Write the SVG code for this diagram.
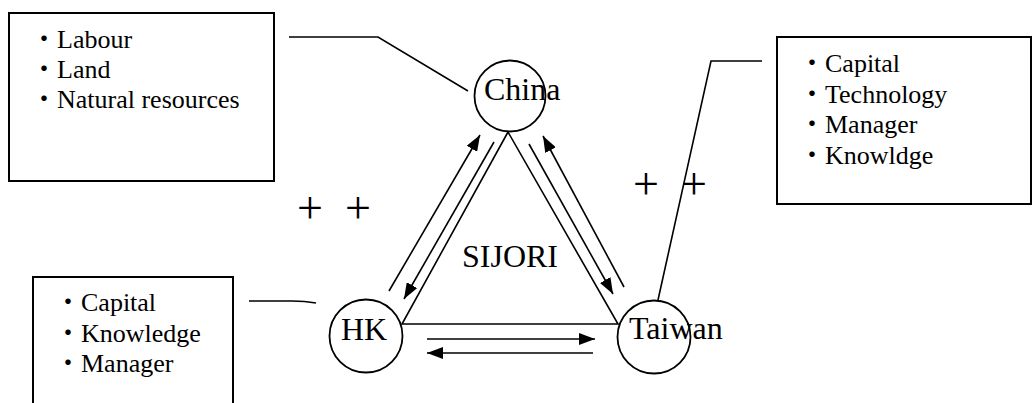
<svg xmlns="http://www.w3.org/2000/svg" width="1032" height="403" viewBox="0 0 1032 403">
  <style>
    .box { fill: #fff; stroke: #000; stroke-width: 2; }
    .ln { fill: none; stroke: #000; stroke-width: 1.6; }
    .node { fill: #fff; stroke: #000; stroke-width: 1.8; }
    text { font-family: 'Liberation Serif', 'Times New Roman', 'Noto Sans CJK JP', serif; fill: #000; }
    .item { font-size: 26px; }
    .lbl { font-size: 32px; }
    .plus { font-size: 46px; }
  </style>
  <defs>
    <marker id="ah" viewBox="0 0 16 12" refX="16" refY="6" markerWidth="16" markerHeight="12" markerUnits="userSpaceOnUse" orient="auto">
      <path d="M0,0 L16,6 L0,12 Z" fill="#000"/>
    </marker>
  </defs>
  <rect width="1032" height="403" fill="#fff"/>

  <g id="box-china">
    <rect class="box" x="9" y="13" width="265" height="168"/>
    <text class="item" x="31" y="48">・Labour</text>
    <text class="item" x="31" y="78">・Land</text>
    <text class="item" x="31" y="108">・Natural resources</text>
  </g>
  <g id="box-taiwan">
    <rect class="box" x="777" y="37" width="254" height="167"/>
    <text class="item" x="799" y="72">・Capital</text>
    <text class="item" x="799" y="103">・Technology</text>
    <text class="item" x="799" y="133">・Manager</text>
    <text class="item" x="799" y="164">・Knowldge</text>
  </g>
  <g id="box-hk">
    <rect class="box" x="33" y="277" width="200" height="140"/>
    <text class="item" x="55" y="311">・Capital</text>
    <text class="item" x="55" y="342">・Knowledge</text>
    <text class="item" x="55" y="372">・Manager</text>
  </g>

  <g id="connectors">
    <polyline class="ln" points="289,37 378,37 468,91"/>
    <polyline class="ln" points="762,61 711,61 658,300"/>
    <path class="ln" d="M249,301 L292,301 Q305,301 316,303"/>
    <polygon class="ln" points="508,132 402,324 618,324"/>
    <line class="ln" x1="389" y1="291" x2="480" y2="135" marker-end="url(#ah)"/>
    <line class="ln" x1="494" y1="142" x2="404" y2="299" marker-end="url(#ah)"/>
    <line class="ln" x1="624" y1="287" x2="543" y2="136" marker-end="url(#ah)"/>
    <line class="ln" x1="529" y1="144" x2="613" y2="294" marker-end="url(#ah)"/>
    <line class="ln" x1="427" y1="339" x2="595" y2="339" marker-end="url(#ah)"/>
    <line class="ln" x1="593" y1="353" x2="427" y2="353" marker-end="url(#ah)"/>
  </g>

  <g id="china">
    <circle class="node" cx="510" cy="96" r="35.5" fill="none"/>
    <text class="lbl" x="484" y="100">China</text>
  </g>
  <g id="hk">
    <circle class="node" cx="366" cy="336" r="36.5"/>
    <text class="lbl" x="341" y="340">HK</text>
  </g>
  <g id="taiwan">
    <circle class="node" cx="654" cy="337" r="36.5"/>
    <text class="lbl" x="629" y="339">Taiwan</text>
  </g>
  <g id="sijori">
    <text class="lbl" x="462" y="267">SIJORI</text>
  </g>
  <g id="plus-left">
    <text class="plus" y="223"><tspan x="297">+</tspan><tspan x="345">+</tspan></text>
  </g>
  <g id="plus-right">
    <text class="plus" y="199"><tspan x="633">+</tspan><tspan x="681">+</tspan></text>
  </g>
</svg>
